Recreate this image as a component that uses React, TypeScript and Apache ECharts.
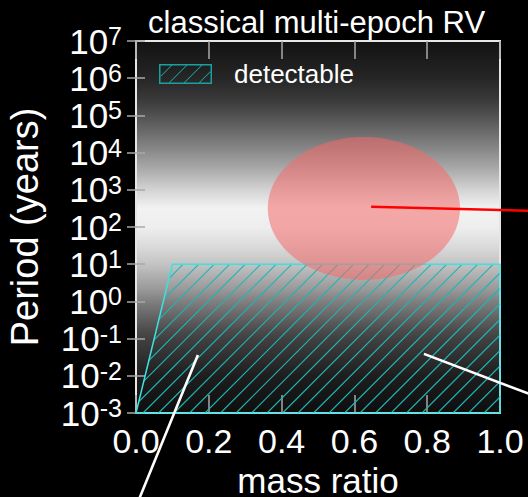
import React, { useEffect, useRef } from "react";
import * as echarts from "echarts";

// ---- data ----
const massRange = [0, 1];
const periodRange = [1e-3, 1e7];
const titleText = "classical multi-epoch RV";
const seriesName = "detectable";

// detectable region (mass ratio, period in years)
const detectMass = [0, 0.1, 1.0, 1.0];
const detectPeriod = [1e-3, 10, 10, 1e-3];

// red ellipse (centre & radii, period radius in dex)
const ellipseMass = [0.626];
const ellipseLogP = [2.5];
const ellipseRadiusMass = [0.264];
const ellipseRadiusLogP = [1.92];

// pointer lines (mass ratio, log10 period)
const redLineMass = [0.646, 1.2];
const redLineLogP = [2.546, 2.407];
const whiteLine1Mass = [0.17, -0.01];
const whiteLine1LogP = [-1.44, -5.76];
const whiteLine2Mass = [0.791, 1.2];
const whiteLine2LogP = [-1.41, -2.93];

// background shading stops (fraction from top, grey level)
const bgStops = [0, 0.1, 0.159, 0.199, 0.253, 0.298, 0.347, 0.398, 0.449, 0.5, 0.548, 0.599, 0.669, 0.699, 0.777, 0.801, 0.9, 1];
const bgGrey = [18, 38, 58, 80, 112, 140, 172, 210, 242, 238, 220, 196, 152, 128, 76, 64, 30, 14];

const FONT = "Liberation Sans, Arial, sans-serif";

function hex(g: number) {
  const h = Math.round(g).toString(16).padStart(2, "0");
  return "#" + h + h + h;
}

function clipLineToPolygon(c: number, pts: number[][]) {
  // line x + y = c, convex polygon pts
  const hits: number[][] = [];
  for (let i = 0; i < pts.length; i++) {
    const p = pts[i];
    const q = pts[(i + 1) % pts.length];
    const fp = p[0] + p[1] - c;
    const fq = q[0] + q[1] - c;
    if ((fp <= 0 && fq > 0) || (fp > 0 && fq <= 0)) {
      const t = fp / (fp - fq);
      hits.push([p[0] + (q[0] - p[0]) * t, p[1] + (q[1] - p[1]) * t]);
    }
  }
  if (hits.length < 2) return null;
  hits.sort((a, b) => a[0] - b[0]);
  return [hits[0], hits[hits.length - 1]];
}

function legendIconPath() {
  const w = 53, h = 20, b = 1.5;
  let d = `M0 0L${w} 0L${w} ${h}L0 ${h}Z M${b} ${b}L${b} ${h - b}L${w - b} ${h - b}L${w - b} ${b}Z`;
  const inner = [[b, b], [w - b, b], [w - b, h - b], [b, h - b]];
  for (let c = 14; c < w + h; c += 15) {
    const seg = clipLineToPolygon(c, inner);
    if (!seg) continue;
    const [a, e] = seg;
    const s = 0.6;
    d += ` M${a[0] - s} ${a[1]}L${a[0] + s} ${a[1]}L${e[0] + s} ${e[1]}L${e[0] - s} ${e[1]}Z`;
  }
  return "path://" + d;
}

export default function App() {
  const ref = useRef<HTMLDivElement>(null);
  useEffect(() => {
    if (!ref.current) return;
    const chart = echarts.init(ref.current, null, { renderer: "svg" });

    const gradient = new echarts.graphic.LinearGradient(
      0, 0, 0, 1,
      bgStops.map((o, i) => ({ offset: o, color: hex(bgGrey[i]) }))
    );

    const pointer = (name: string, mass: number[], logp: number[], color: string) => ({
      name,
      type: "custom",
      xAxisIndex: 0,
      yAxisIndex: 0,
      z: 5,
      silent: true,
      clip: false,
      data: [[mass[0], Math.pow(10, logp[0])]],
      renderItem: (params: any, api: any) => {
        const a = api.coord([mass[0], Math.pow(10, logp[0])]);
        const b = api.coord([mass[1], Math.pow(10, logp[1])]);
        return {
          type: "line",
          shape: { x1: a[0], y1: a[1], x2: b[0], y2: b[1] },
          style: { stroke: color, lineWidth: 2.6 },
        };
      },
    });

    const option: any = {
      animation: false,
      backgroundColor: "#000",
      textStyle: { fontFamily: FONT },
      title: {
        text: titleText,
        left: 148,
        top: 7,
        padding: 0,
        textStyle: { color: "#fff", fontSize: 31, fontWeight: "normal", fontFamily: FONT },
      },
      legend: {
        data: [{ name: seriesName, icon: legendIconPath(), itemStyle: { color: "#1c9f9f" } }],
        left: 159,
        top: 61,
        padding: 0,
        itemWidth: 53,
        itemHeight: 20,
        textStyle: { color: "#fff", fontSize: 26, fontFamily: FONT, padding: [0, 0, 0, 17] },
      },
      grid: {
        left: 136,
        right: 28,
        top: 41,
        bottom: 84,
        show: true,
        containLabel: false,
        outerBoundsMode: "none",
        backgroundColor: gradient,
        borderColor: "#e6e6e6",
        borderWidth: 2,
        z: 0,
      },
      xAxis: [
        {
          type: "value",
          min: massRange[0],
          max: massRange[1],
          interval: 0.2,
          position: "bottom",
          name: "mass ratio",
          nameLocation: "middle",
          nameGap: 45,
          nameTextStyle: { color: "#fff", fontSize: 35, lineHeight: 35, fontFamily: FONT },
          axisLine: { show: false },
          axisTick: { show: true, inside: true, length: 18, lineStyle: { color: "#a8a8a8", width: 1.5 } },
          axisLabel: {
            color: "#fff",
            fontSize: 34,
            fontFamily: FONT,
            margin: 11,
            showMinLabel: true,
            showMaxLabel: true,
            hideOverlap: false,
            formatter: (v: number) => v.toFixed(1),
          },
          splitLine: { show: false },
        },
        {
          type: "value",
          min: massRange[0],
          max: massRange[1],
          interval: 0.2,
          position: "top",
          axisLine: { show: false },
          axisTick: { show: true, inside: true, length: 18, lineStyle: { color: "#a8a8a8", width: 1.5 } },
          axisLabel: { show: false },
          splitLine: { show: false },
        },
      ],
      yAxis: [
        {
          type: "log",
          logBase: 10,
          min: periodRange[0],
          max: periodRange[1],
          interval: 1,
          position: "left",
          name: "Period (years)",
          nameLocation: "middle",
          nameGap: 92,
          nameTextStyle: { color: "#fff", fontSize: 38, fontFamily: FONT },
          axisLine: { show: false },
          axisTick: { show: true, inside: true, length: 9, lineStyle: { color: "#a8a8a8", width: 1.5 } },
          axisLabel: {
            color: "#fff",
            margin: 14,
            showMinLabel: true,
            showMaxLabel: true,
            hideOverlap: false,
            formatter: (v: number) => "{b|10}{s|" + Math.round(Math.log10(v)) + "}",
            rich: {
              b: { fontSize: 35, lineHeight: 35, color: "#fff", fontFamily: FONT },
              s: { fontSize: 25, lineHeight: 25, color: "#fff", fontFamily: FONT, verticalAlign: "top" },
            },
          },
          splitLine: { show: false },
        },
        {
          type: "log",
          logBase: 10,
          min: periodRange[0],
          max: periodRange[1],
          interval: 1,
          position: "right",
          axisLine: { show: false },
          axisTick: { show: true, inside: true, length: 9, lineStyle: { color: "#a8a8a8", width: 1.5 } },
          axisLabel: { show: false },
          splitLine: { show: false },
        },
      ],
      series: [
        {
          name: seriesName,
          type: "custom",
          xAxisIndex: 0,
          yAxisIndex: 0,
          z: 2,
          silent: true,
          itemStyle: { color: "#1c9f9f" },
          data: [[detectMass[0], detectPeriod[0]]],
          renderItem: (params: any, api: any) => {
            const pts = detectMass.map((m, i) => api.coord([m, detectPeriod[i]]));
            const children: any[] = [];
            const sums = pts.map((p: number[]) => p[0] + p[1]);
            const cMin = Math.min(...sums);
            const cMax = Math.max(...sums);
            const step = 15.5;
            const base = pts[0][0] + pts[0][1];
            const kStart = Math.ceil((cMin - base) / step);
            for (let k = kStart; base + k * step < cMax; k++) {
              const seg = clipLineToPolygon(base + k * step + 7, pts);
              if (!seg) continue;
              children.push({
                type: "line",
                shape: { x1: seg[0][0], y1: seg[0][1], x2: seg[1][0], y2: seg[1][1] },
                style: { stroke: "#1fb5b5", lineWidth: 1.1 },
              });
            }
            children.push({
              type: "polygon",
              shape: { points: pts },
              style: { fill: "none", stroke: "#3ee0e0", lineWidth: 1.5 },
            });
            return { type: "group", children };
          },
        },
        {
          name: "ellipse",
          type: "custom",
          xAxisIndex: 0,
          yAxisIndex: 0,
          z: 3,
          silent: true,
          data: ellipseMass.map((m, i) => [m, Math.pow(10, ellipseLogP[i])]),
          renderItem: (params: any, api: any) => {
            const i = params.dataIndex;
            const pts: number[][] = [];
            const n = 120;
            for (let j = 0; j < n; j++) {
              const t = (j / n) * Math.PI * 2;
              const m = ellipseMass[i] + ellipseRadiusMass[i] * Math.cos(t);
              const lp = ellipseLogP[i] + ellipseRadiusLogP[i] * Math.sin(t);
              pts.push(api.coord([m, Math.pow(10, lp)]));
            }
            return {
              type: "polygon",
              shape: { points: pts },
              style: { fill: "rgba(245,105,105,0.55)", stroke: "none" },
            };
          },
        },
        pointer("red pointer", redLineMass, redLineLogP, "#ff0000"),
        pointer("white pointer 1", whiteLine1Mass, whiteLine1LogP, "#ffffff"),
        pointer("white pointer 2", whiteLine2Mass, whiteLine2LogP, "#ffffff"),
      ],
    };
    chart.setOption(option);
    return () => chart.dispose();
  }, []);
  return (
    <div
      ref={ref}
      style={{ position: "absolute", left: 0, top: 0, width: 528, height: 497, background: "#000" }}
    />
  );
}
